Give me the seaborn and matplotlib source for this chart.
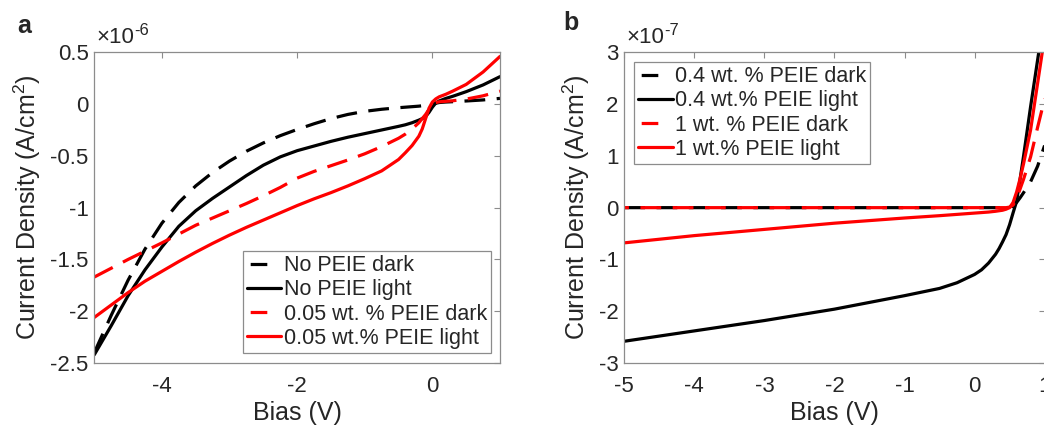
"""J-V curves of devices with and without PEIE interlayer (dark / light)."""

import matplotlib
matplotlib.use("Agg")
import matplotlib.pyplot as plt
import seaborn as sns
import pandas as pd
from matplotlib.ticker import FuncFormatter

# ---- panel a : current density in units of 1e-6 A/cm^2
bias_a = [-5, -4.75, -4.5, -4.25, -4, -3.75, -3.5, -3.25, -3, -2.75, -2.5,
          -2.25, -2, -1.75, -1.5, -1.25, -1, -0.75, -0.5, -0.4, -0.3, -0.2,
          -0.15, -0.1, -0.05, 0, 0.05, 0.1, 0.2, 0.3, 0.5, 0.75, 1]
no_peie_dark = [-2.40, -2.04, -1.70, -1.40, -1.15, -0.95, -0.79, -0.66, -0.55,
                -0.455, -0.375, -0.305, -0.245, -0.19, -0.14, -0.10, -0.07,
                -0.05, -0.035, -0.03, -0.025, -0.02, -0.016, -0.012, -0.006,
                0.0, 0.008, 0.015, 0.02, 0.023, 0.03, 0.04, 0.055]
no_peie_light = [-2.42, -2.14, -1.85, -1.60, -1.38, -1.18, -1.03, -0.91, -0.80,
                 -0.69, -0.59, -0.51, -0.45, -0.405, -0.36, -0.32, -0.285,
                 -0.25, -0.215, -0.20, -0.18, -0.155, -0.14, -0.12, -0.08,
                 -0.03, 0.01, 0.03, 0.055, 0.075, 0.12, 0.185, 0.265]
peie005_dark = [-1.67, -1.585, -1.50, -1.42, -1.34, -1.255, -1.17, -1.10,
                -1.03, -0.96, -0.885, -0.805, -0.715, -0.65, -0.595, -0.54,
                -0.48, -0.41, -0.33, -0.29, -0.24, -0.18, -0.14, -0.10, -0.05,
                -0.005, 0.015, 0.022, 0.027, 0.032, 0.048, 0.08, 0.125]
peie005_light = [-2.06, -1.94, -1.82, -1.71, -1.615, -1.52, -1.43, -1.345,
                 -1.265, -1.19, -1.12, -1.05, -0.98, -0.915, -0.855, -0.79,
                 -0.72, -0.645, -0.535, -0.47, -0.40, -0.31, -0.24, -0.14,
                 -0.04, 0.02, 0.05, 0.07, 0.095, 0.125, 0.19, 0.31, 0.46]
labels_a = ["No PEIE dark", "No PEIE light",
            "0.05 wt. % PEIE dark", "0.05 wt.% PEIE light"]

# ---- panel b : current density in units of 1e-7 A/cm^2
bias_b = [-5, -4, -3, -2, -1, -0.5, -0.25, 0, 0.1, 0.2, 0.3, 0.35, 0.4, 0.45,
          0.5, 0.55, 0.6, 0.65, 0.7, 0.8, 0.9, 1.0]
peie04_dark = [0, 0, 0, 0, 0, 0, 0, 0, 0, 0, 0, 0, 0, 0, 0.0, 0.03, 0.10, 0.19,
               0.29, 0.50, 0.80, 1.2]
peie04_light = [-2.58, -2.38, -2.18, -1.96, -1.70, -1.56, -1.45, -1.29, -1.20,
                -1.07, -0.90, -0.79, -0.66, -0.52, -0.33, -0.10, 0.12, 0.55,
                1.0, 1.95, 2.85, 3.75]
peie1_dark = [0, 0, 0, 0, 0, 0, 0, 0, 0, 0, 0, 0, 0, 0, 0.01, 0.05, 0.18, 0.36,
              0.55, 0.98, 1.55, 2.1]
peie1_light = [-0.68, -0.54, -0.42, -0.30, -0.20, -0.155, -0.13, -0.105,
               -0.095, -0.085, -0.07, -0.06, -0.05, -0.03, 0.0, 0.10, 0.30,
               0.56, 0.85, 1.5, 2.4, 3.3]
labels_b = ["0.4 wt. % PEIE dark", "0.4 wt.% PEIE light",
            "1 wt. % PEIE dark", "1 wt.% PEIE light"]

colors = ["#000000", "#000000", "#ff0000", "#ff0000"]
dash = (6.5, 3.6)
dashes = [dash, "", dash, ""]
LW = 2.3


def long_table(bias, series, labels):
    rows = []
    for vals, lab in zip(series, labels):
        for b, v in zip(bias, vals):
            rows.append({"bias": b, "current": v, "device": lab})
    return pd.DataFrame(rows)


sns.set_style("white")
plt.rcParams["font.family"] = ["Liberation Sans", "DejaVu Sans"]
plt.rcParams["mathtext.fontset"] = "custom"
plt.rcParams["mathtext.rm"] = "Liberation Sans"
plt.rcParams["mathtext.it"] = "Liberation Sans:italic"
plt.rcParams["axes.unicode_minus"] = False

W, H = 1044, 430
fig = plt.figure(figsize=(W / 100, H / 100), dpi=100)
ax_a = fig.add_axes([94.3 / W, 67 / H, 405.7 / W, 310.7 / H])
ax_b = fig.add_axes([624.3 / W, 67 / H, 420.3 / W, 310.7 / H])

panels = [
    (ax_a, bias_a, [no_peie_dark, no_peie_light, peie005_dark, peie005_light],
     labels_a, (-2.5, 0.5), [-2.5, -2, -1.5, -1, -0.5, 0, 0.5], [-4, -2, 0], "-6"),
    (ax_b, bias_b, [peie04_dark, peie04_light, peie1_dark, peie1_light],
     labels_b, (-3, 3), [-3, -2, -1, 0, 1, 2, 3], [-5, -4, -3, -2, -1, 0, 1], "-7"),
]

spine_col = "#8c8c8c"
text_col = "#262626"

for ax, bias, series, labels, ylim, yticks, xticks, expo in panels:
    dfrm = long_table(bias, series, labels)
    sns.lineplot(data=dfrm, x="bias", y="current", hue="device", style="device",
                 hue_order=labels, style_order=labels,
                 palette=dict(zip(labels, colors)),
                 dashes=dict(zip(labels, dashes)),
                 estimator=None, sort=False, linewidth=LW, legend=False, ax=ax)
    ax.set_xlim(-5, 1)
    ax.set_ylim(*ylim)
    ax.set_yticks(yticks)
    ax.set_xticks(xticks)
    fmt = FuncFormatter(lambda v, p: "%g" % v)
    ax.xaxis.set_major_formatter(fmt)
    ax.yaxis.set_major_formatter(fmt)
    ax.tick_params(direction="in", top=True, right=True, length=4, width=0.8,
                   color=spine_col, labelcolor=text_col, labelsize=16)
    ax.tick_params(axis="x", pad=9)
    ax.tick_params(axis="y", pad=4)
    for sp in ax.spines.values():
        sp.set_color(spine_col)
        sp.set_linewidth(0.9)
    ax.set_xlabel("Bias (V)", fontsize=18, color=text_col, labelpad=3)
    ax.set_ylabel("Current Density (A/cm$^2$)", fontsize=18, color=text_col,
                  labelpad=5)
    # exponent label like matlab's "x10^-6"
    pos = ax.get_position()
    fig.text(pos.x0 + 2 / W, pos.y1 + 4 / H, "\u00d710", fontsize=16,
             color=text_col, ha="left", va="bottom")
    fig.text(pos.x0 + 40 / W, pos.y1 + 14 / H, expo, fontsize=12,
             color=text_col, ha="left", va="bottom")

# phase shift of red dashed in panel b so both dark curves show
ax_b.lines[2].set_linestyle((sum(dash) / 2, dash))

leg_kws = dict(borderaxespad=0, fontsize=15.5, handlelength=1.6,
               handletextpad=0.1, labelspacing=0.15, borderpad=0.2,
               fancybox=False, framealpha=1, edgecolor=spine_col)
leg_a = ax_a.legend(handles=ax_a.lines, labels=labels_a, loc="lower right",
                    bbox_to_anchor=(0.978, 0.032), **leg_kws)
leg_b = ax_b.legend(handles=ax_b.lines, labels=labels_b, loc="upper left",
                    bbox_to_anchor=(0.023, 0.969), **leg_kws)
for leg in (leg_a, leg_b):
    leg.get_frame().set_linewidth(0.9)
    # matlab shows one short dash for dashed entries
    for i in (0, 2):
        leg.get_lines()[i].set_linestyle((24.2, (5.2, 20)))

fig.text(17 / W, 1 - 33 / H, "a", fontsize=18, fontweight="bold",
         ha="left", va="baseline")
fig.text(563 / W, 1 - 30 / H, "b", fontsize=18, fontweight="bold",
         ha="left", va="baseline")

plt.savefig("out.png", dpi=100)
